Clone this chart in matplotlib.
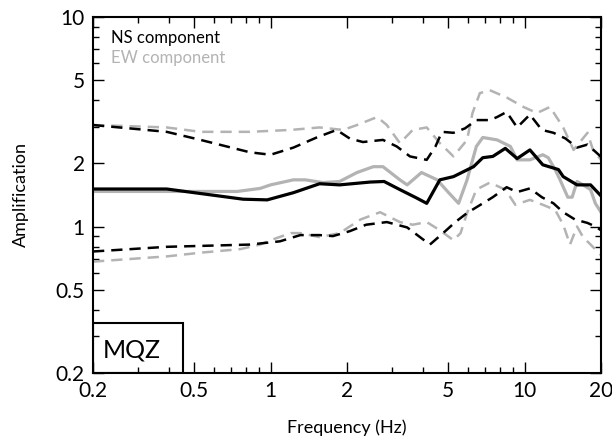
import matplotlib
matplotlib.use('Agg')
import matplotlib.pyplot as plt
from matplotlib.ticker import LogLocator, FixedLocator, NullFormatter, FixedFormatter
from matplotlib.patches import Rectangle

plt.rcParams['font.family'] = ['Lato', 'DejaVu Sans']

# NS component (black)
ns_mean_f = [0.2, 0.39, 0.78, 0.97, 1.23, 1.56, 1.87, 2.47, 2.8, 3.23, 3.75, 4.12, 4.64, 5.25, 6.3, 6.85, 7.5, 8.4, 9.35, 10.5, 11.8, 13.6, 14.2, 16.1, 18.2, 20]
ns_mean = [1.51, 1.51, 1.35, 1.34, 1.45, 1.60, 1.58, 1.63, 1.64, 1.50, 1.37, 1.29, 1.67, 1.73, 1.93, 2.13, 2.16, 2.36, 2.11, 2.32, 1.97, 1.87, 1.73, 1.58, 1.58, 1.40]

ns_up_f = [0.2, 0.39, 0.53, 0.83, 1.0, 1.23, 1.52, 1.82, 2.05, 2.31, 2.77, 3.14, 3.54, 4.12, 4.46, 4.73, 5.25, 5.83, 6.46, 7.3, 7.8, 8.5, 9.35, 10.5, 11.7, 13.0, 14.5, 16.1, 17.7, 19.6, 20]
ns_up = [3.05, 2.83, 2.59, 2.26, 2.20, 2.38, 2.66, 2.89, 2.63, 2.53, 2.59, 2.41, 2.16, 2.08, 2.41, 2.83, 2.80, 2.94, 3.22, 3.22, 3.33, 3.52, 2.97, 3.42, 2.89, 2.80, 2.63, 2.38, 2.46, 2.20, 2.15]

ns_lo_f = [0.2, 0.39, 0.83, 1.09, 1.31, 1.56, 1.76, 2.05, 2.38, 2.87, 3.45, 4.24, 4.78, 5.34, 5.94, 6.85, 7.5, 8.5, 9.35, 10.5, 11.7, 13.0, 14.2, 15.8, 17.7, 19.0, 20]
ns_lo = [0.76, 0.80, 0.82, 0.85, 0.91, 0.91, 0.90, 0.95, 1.02, 1.05, 0.99, 0.82, 0.93, 1.05, 1.16, 1.29, 1.38, 1.54, 1.46, 1.52, 1.38, 1.29, 1.17, 1.08, 1.04, 1.00, 0.96]

# EW component (grey)
ew_mean_f = [0.2, 0.74, 0.91, 1.0, 1.23, 1.37, 1.61, 1.87, 2.19, 2.54, 2.77, 3.23, 3.45, 3.93, 4.53, 5.0, 5.5, 5.94, 6.46, 6.85, 7.8, 8.8, 9.35, 10.5, 11.8, 12.4, 13.2, 13.8, 14.8, 15.4, 16.1, 17.0, 18.2, 19.0, 20]
ew_mean = [1.47, 1.47, 1.52, 1.58, 1.67, 1.67, 1.62, 1.64, 1.81, 1.93, 1.93, 1.67, 1.58, 1.81, 1.67, 1.46, 1.29, 1.67, 2.41, 2.66, 2.59, 2.41, 2.08, 2.08, 2.20, 2.13, 1.87, 1.67, 1.38, 1.38, 1.64, 1.58, 1.50, 1.29, 1.17]

ew_up_f = [0.2, 0.39, 0.53, 0.83, 1.2, 1.56, 1.93, 2.19, 2.63, 2.87, 3.23, 3.63, 4.12, 4.64, 5.25, 5.94, 6.24, 6.67, 7.3, 8.5, 9.9, 11.2, 12.6, 14.2, 15.6, 17.7, 18.6, 20]
ew_up = [3.05, 2.97, 2.83, 2.83, 2.89, 2.97, 2.89, 3.05, 3.33, 3.05, 2.50, 2.89, 2.97, 2.50, 2.16, 2.59, 3.48, 4.33, 4.47, 4.13, 3.72, 3.48, 3.72, 2.97, 2.32, 2.80, 2.32, 2.08]

ew_lo_f = [0.2, 0.39, 0.53, 0.76, 0.91, 1.0, 1.2, 1.31, 1.56, 1.87, 2.26, 2.70, 3.23, 3.63, 4.12, 4.64, 5.25, 5.6, 5.94, 6.46, 7.3, 8.4, 9.2, 10.5, 11.8, 13.2, 14.2, 15.1, 16.1, 17.0, 18.2, 20]
ew_lo = [0.68, 0.72, 0.75, 0.78, 0.82, 0.86, 0.93, 0.93, 0.89, 0.93, 1.08, 1.17, 1.05, 1.02, 1.05, 0.96, 0.86, 0.93, 1.16, 1.50, 1.62, 1.50, 1.27, 1.34, 1.27, 1.20, 1.02, 0.82, 1.00, 0.89, 0.82, 0.73]

x_ticks = [0.2, 0.5, 1, 2, 5, 10, 20]
y_ticks = [0.2, 0.5, 1, 2, 5, 10]
station = 'MQZ'

grey = '#b3b3b3'
dash = (0, (4.5, 2.8))

fig = plt.figure(figsize=(6.12, 4.46), dpi=100)
ax = fig.add_axes([0.152, 0.1637, 0.830, 0.7983])

ax.plot(ew_up_f, ew_up, color=grey, lw=1.8, linestyle=dash)
ax.plot(ew_lo_f, ew_lo, color=grey, lw=1.8, linestyle=dash)
ax.plot(ew_mean_f, ew_mean, color=grey, lw=2.3)
ax.plot(ns_up_f, ns_up, color='black', lw=1.8, linestyle=dash)
ax.plot(ns_lo_f, ns_lo, color='black', lw=1.8, linestyle=dash)
ax.plot(ns_mean_f, ns_mean, color='black', lw=2.3)

ax.set_xscale('log')
ax.set_yscale('log')
ax.set_xlim(0.2, 20)
ax.set_ylim(0.2, 10)

ax.xaxis.set_major_locator(FixedLocator(x_ticks))
ax.xaxis.set_major_formatter(FixedFormatter([str(t) for t in x_ticks]))
ax.xaxis.set_minor_locator(LogLocator(base=10, subs=range(2, 10)))
ax.xaxis.set_minor_formatter(NullFormatter())
ax.yaxis.set_major_locator(FixedLocator(y_ticks))
ax.yaxis.set_major_formatter(FixedFormatter([str(t) for t in y_ticks]))
ax.yaxis.set_minor_locator(LogLocator(base=10, subs=range(2, 10)))
ax.yaxis.set_minor_formatter(NullFormatter())

ax.tick_params(which='both', direction='in', top=True, right=True, width=1.0)
ax.tick_params(which='major', length=8, labelsize=15, pad=6)
ax.tick_params(which='minor', length=4)
for s in ax.spines.values():
    s.set_linewidth(1.5)

ax.set_xlabel('Frequency (Hz)', fontsize=13, labelpad=13)
ax.set_ylabel('Amplification', fontsize=13, labelpad=19)

ax.text(0.035, 0.94, 'NS component', transform=ax.transAxes, fontsize=12, color='black', va='center')
ax.text(0.035, 0.885, 'EW component', transform=ax.transAxes, fontsize=12, color=grey, va='center')

box = Rectangle((0, 0), 0.177, 0.14, transform=ax.transAxes, fill=False, lw=1.5, ec='black')
ax.add_patch(box)
ax.text(0.02, 0.065, station, transform=ax.transAxes, fontsize=18, va='center')

fig.savefig('out.png', dpi=100)
